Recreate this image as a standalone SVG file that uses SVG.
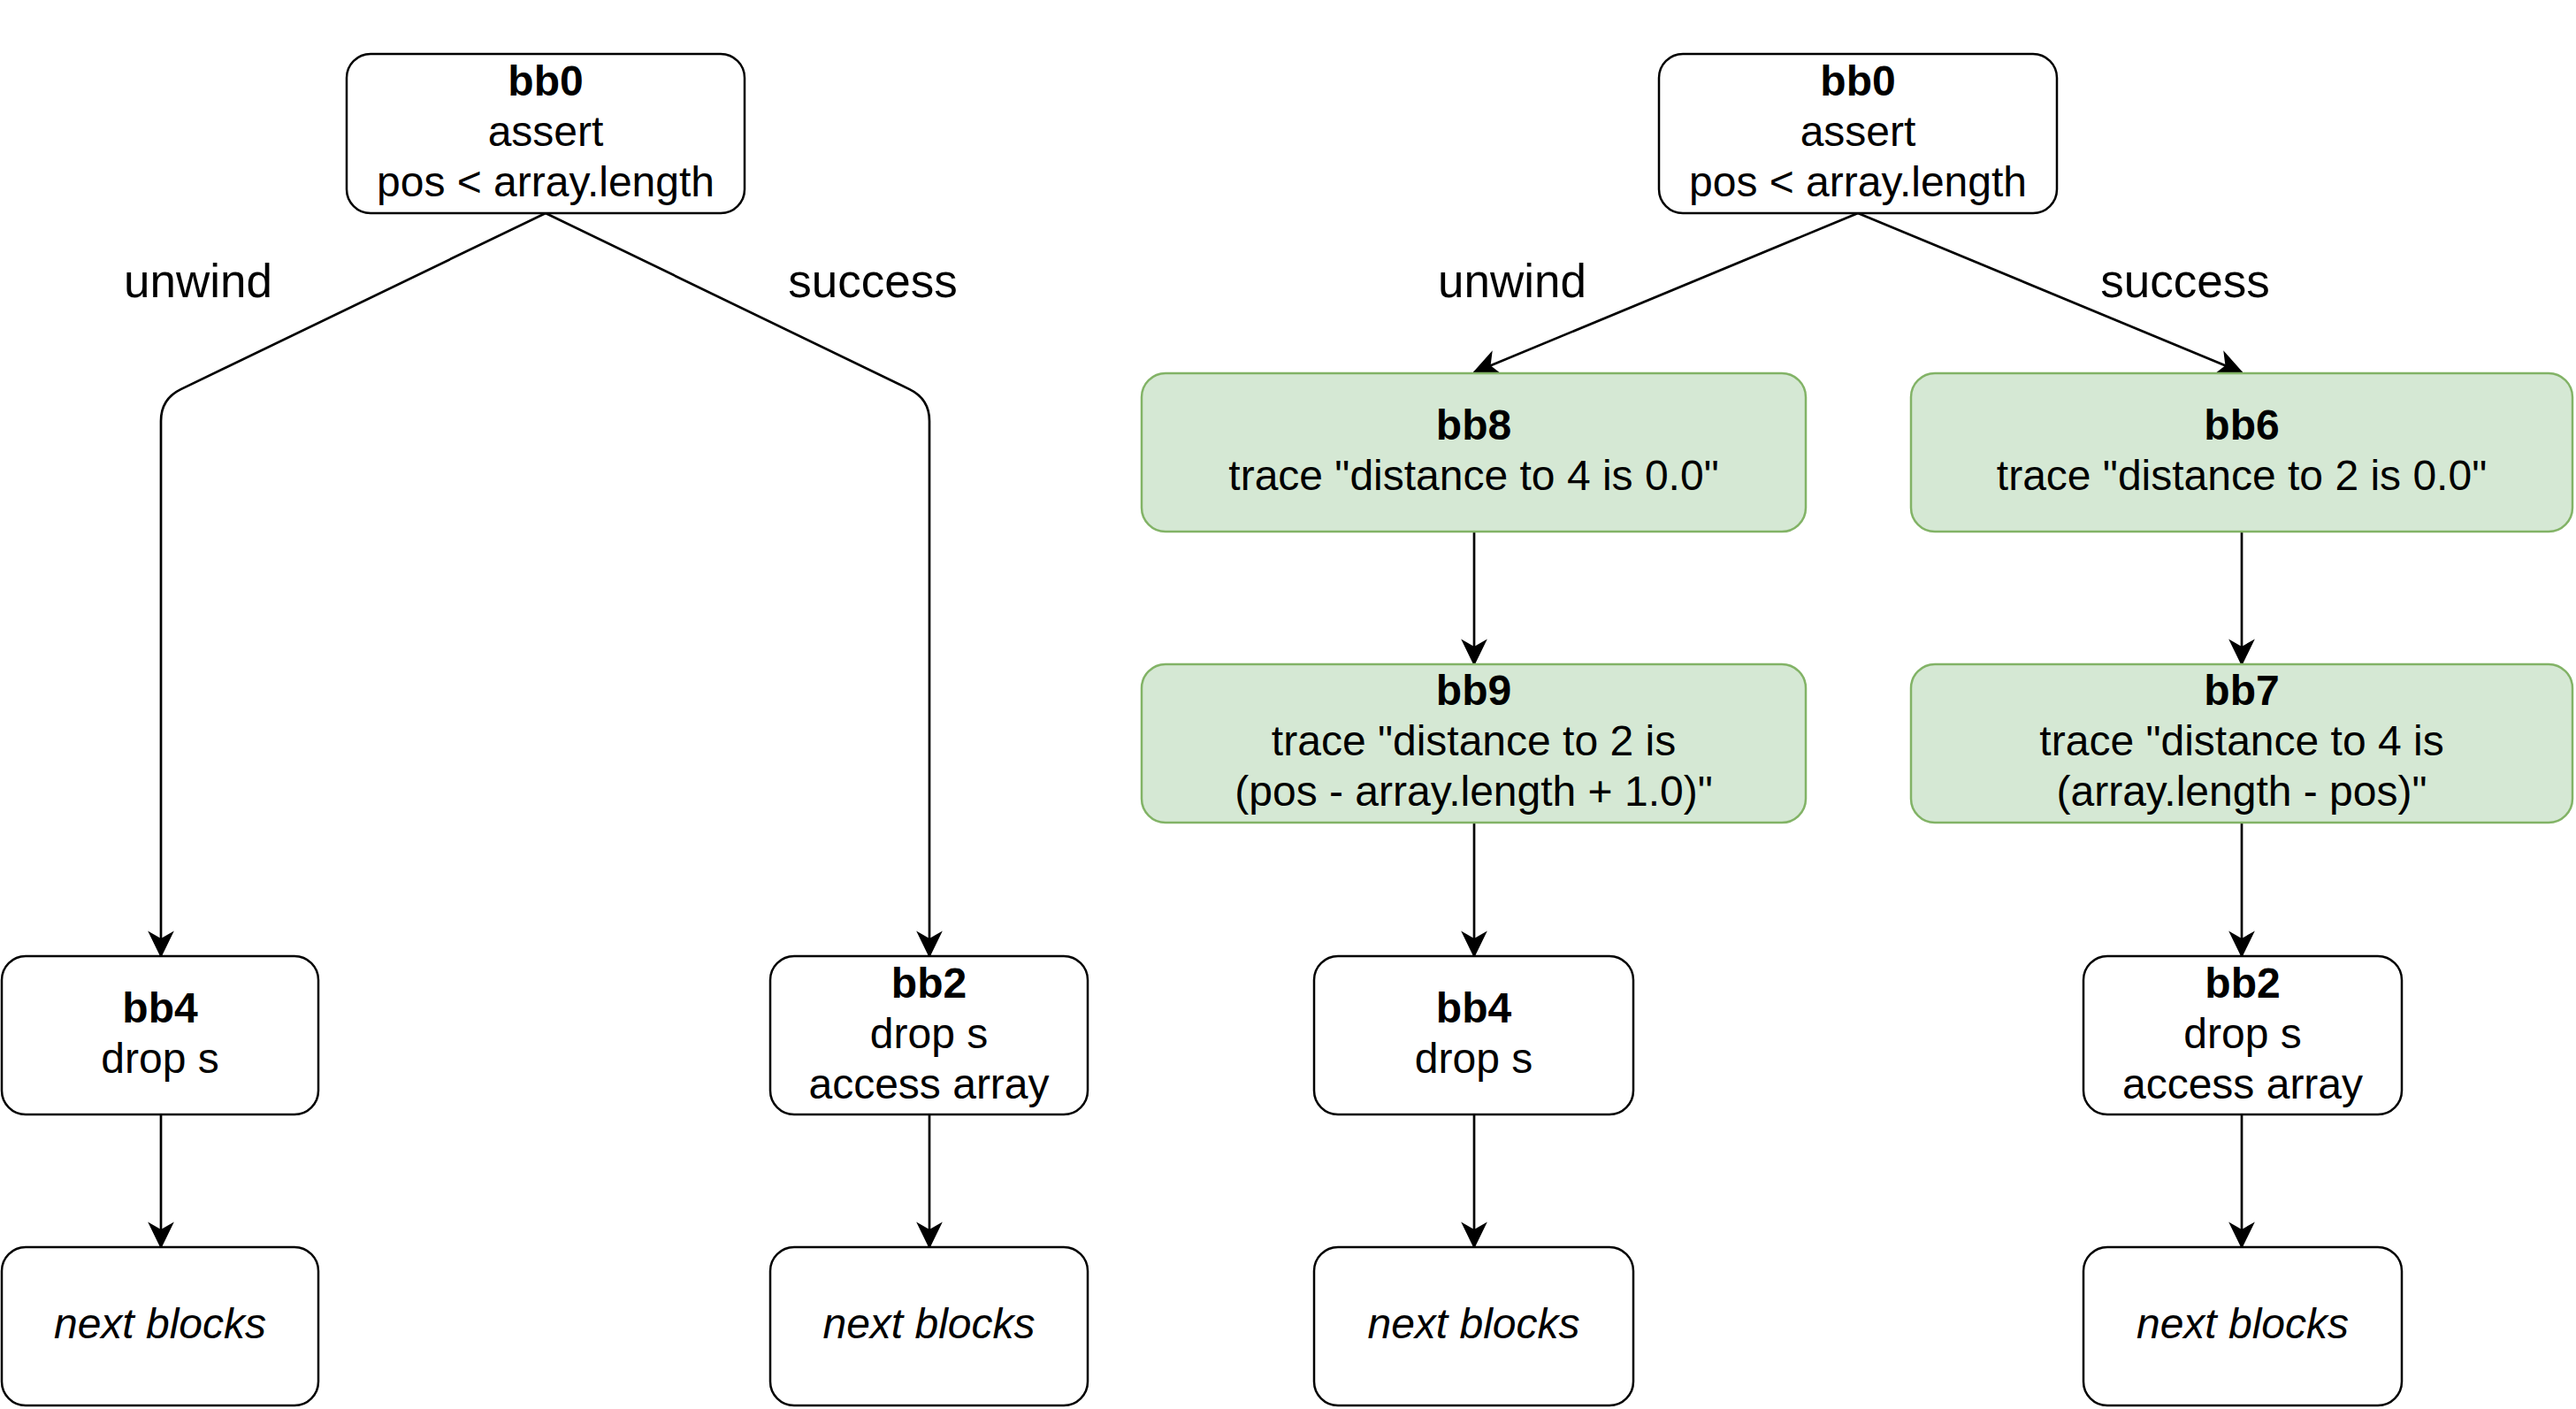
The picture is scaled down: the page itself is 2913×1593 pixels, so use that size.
<svg xmlns="http://www.w3.org/2000/svg" width="2913" height="1593" viewBox="0 0 2913 1593">
<defs>
<style>
.box{fill:#ffffff;stroke:#000000;stroke-width:2.5}
.green{fill:#d5e8d4;stroke:#82b366;stroke-width:2.5}
.t{font-family:"Liberation Sans",Arial,Helvetica,sans-serif;font-size:48px;fill:#000000;text-anchor:middle}
.b{font-weight:bold}
.i{font-style:italic}
.lbl{font-family:"Liberation Sans",Arial,Helvetica,sans-serif;font-size:53px;fill:#000000;text-anchor:middle}
.edge{fill:none;stroke:#000000;stroke-width:2.7}
</style>
<marker id="arr" markerUnits="userSpaceOnUse" markerWidth="36" markerHeight="36" viewBox="-30 -16 34 32" refX="0" refY="0" orient="auto">
<path d="M2,0 L-27,-14 L-19,0 L-27,14 Z" fill="#000000"/>
</marker>
</defs>
<rect width="2913" height="1593" fill="#ffffff"/>

<g id="connectors">
<path class="edge" d="M617,241 L204.5,440.1 Q182,451 182,476 L182,1081" marker-end="url(#arr)"/>
<path class="edge" d="M617,241 L1028.5,440.1 Q1051,451 1051,476 L1051,1081" marker-end="url(#arr)"/>
<path class="edge" d="M182,1260 L182,1410" marker-end="url(#arr)"/>
<path class="edge" d="M1051,1260 L1051,1410" marker-end="url(#arr)"/>
<path class="edge" d="M2101,241 L1667,421" marker-end="url(#arr)"/>
<path class="edge" d="M2101,241 L2535,421" marker-end="url(#arr)"/>
<path class="edge" d="M1667,601 L1667,751" marker-end="url(#arr)"/>
<path class="edge" d="M1667,930 L1667,1081" marker-end="url(#arr)"/>
<path class="edge" d="M1667,1260 L1667,1410" marker-end="url(#arr)"/>
<path class="edge" d="M2535,601 L2535,751" marker-end="url(#arr)"/>
<path class="edge" d="M2535,930 L2535,1081" marker-end="url(#arr)"/>
<path class="edge" d="M2535,1260 L2535,1410" marker-end="url(#arr)"/>
</g>

<g id="labels">
<text class="lbl" x="224" y="336">unwind</text>
<text class="lbl" x="987" y="336">success</text>
<text class="lbl" x="1710" y="336">unwind</text>
<text class="lbl" x="2471" y="336">success</text>
</g>

<g id="L-bb0">
<rect class="box" x="392" y="61" width="450" height="180" rx="27"/>
<text class="t b" x="617" y="108">bb0</text>
<text class="t" x="617" y="165">assert</text>
<text class="t" x="617" y="222">pos &lt; array.length</text>
</g>
<g id="L-bb4">
<rect class="box" x="2" y="1081" width="358" height="179" rx="27"/>
<text class="t b" x="181" y="1156">bb4</text>
<text class="t" x="181" y="1213">drop s</text>
</g>
<g id="L-bb2">
<rect class="box" x="871" y="1081" width="359" height="179" rx="27"/>
<text class="t b" x="1050.5" y="1128">bb2</text>
<text class="t" x="1050.5" y="1185">drop s</text>
<text class="t" x="1050.5" y="1242">access array</text>
</g>
<g id="L-next1">
<rect class="box" x="2" y="1410" width="358" height="179" rx="27"/>
<text class="t i" x="181" y="1513">next blocks</text>
</g>
<g id="L-next2">
<rect class="box" x="871" y="1410" width="359" height="179" rx="27"/>
<text class="t i" x="1050.5" y="1513">next blocks</text>
</g>

<g id="R-bb0">
<rect class="box" x="1876" y="61" width="450" height="180" rx="27"/>
<text class="t b" x="2101" y="108">bb0</text>
<text class="t" x="2101" y="165">assert</text>
<text class="t" x="2101" y="222">pos &lt; array.length</text>
</g>
<g id="R-bb8">
<rect class="green" x="1291" y="422" width="751" height="179" rx="27"/>
<text class="t b" x="1666.5" y="497">bb8</text>
<text class="t" x="1666.5" y="554">trace "distance to 4 is 0.0"</text>
</g>
<g id="R-bb6">
<rect class="green" x="2161" y="422" width="748" height="179" rx="27"/>
<text class="t b" x="2535" y="497">bb6</text>
<text class="t" x="2535" y="554">trace "distance to 2 is 0.0"</text>
</g>
<g id="R-bb9">
<rect class="green" x="1291" y="751" width="751" height="179" rx="27"/>
<text class="t b" x="1666.5" y="797">bb9</text>
<text class="t" x="1666.5" y="854">trace "distance to 2 is</text>
<text class="t" x="1666.5" y="911">(pos - array.length + 1.0)"</text>
</g>
<g id="R-bb7">
<rect class="green" x="2161" y="751" width="748" height="179" rx="27"/>
<text class="t b" x="2535" y="797">bb7</text>
<text class="t" x="2535" y="854">trace "distance to 4 is</text>
<text class="t" x="2535" y="911">(array.length - pos)"</text>
</g>
<g id="R-bb4">
<rect class="box" x="1486" y="1081" width="361" height="179" rx="27"/>
<text class="t b" x="1666.5" y="1156">bb4</text>
<text class="t" x="1666.5" y="1213">drop s</text>
</g>
<g id="R-bb2">
<rect class="box" x="2356" y="1081" width="360" height="179" rx="27"/>
<text class="t b" x="2536" y="1128">bb2</text>
<text class="t" x="2536" y="1185">drop s</text>
<text class="t" x="2536" y="1242">access array</text>
</g>
<g id="R-next1">
<rect class="box" x="1486" y="1410" width="361" height="179" rx="27"/>
<text class="t i" x="1666.5" y="1513">next blocks</text>
</g>
<g id="R-next2">
<rect class="box" x="2356" y="1410" width="360" height="179" rx="27"/>
<text class="t i" x="2536" y="1513">next blocks</text>
</g>
</svg>
